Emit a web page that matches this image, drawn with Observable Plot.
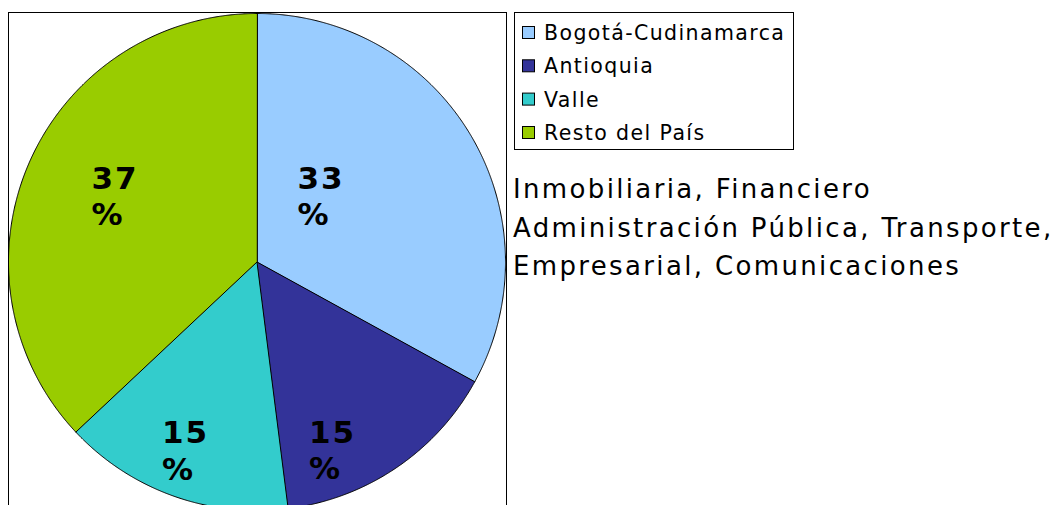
<!DOCTYPE html>
<html>
<head>
<meta charset="utf-8">
<script src="https://cdn.jsdelivr.net/npm/d3@7"></script>
<script src="https://cdn.jsdelivr.net/npm/@observablehq/plot@0.6"></script>
<style>
  html, body { margin: 0; padding: 0; background: #fff; overflow: hidden; }
  #wrap { position: relative; width: 1059px; height: 505px; overflow: hidden; }
  #wrap svg text { font-family: "DejaVu Sans", Verdana, sans-serif; }
  #chart .lbl text { letter-spacing: 2px; }
  #overlay { position: absolute; left: 0; top: 0; }
</style>
</head>
<body>
<div id="wrap"><div id="chart"></div><svg id="overlay" width="1059" height="505"></svg></div>
<script>
// ---- data ----
const regions = ["Bogotá-Cudinamarca", "Antioquia", "Valle", "Resto del País"];
const shares = [33, 15, 15, 37];
const colors = ["#99CCFF", "#333399", "#33CCCC", "#99CC00"];
const sectors = ["Inmobiliaria, Financiero", "Administración Pública, Transporte,", "Empresarial, Comunicaciones"];

// ---- layout (not data) ----
const labelRadius = [0.364, 0.815, 0.815, 0.635];   // fraction of pie radius
const labelTurn = [-15.7, 12.8, 1.35, 1.1];          // degrees relative to slice middle

// build slice polygons in unit-circle coordinates (angle 0 at top, clockwise)
const total = d3.sum(shares);
let acc = 0;
const slices = regions.map((name, i) => {
  const a0 = acc / total * 2 * Math.PI;
  acc += shares[i];
  const a1 = acc / total * 2 * Math.PI;
  return {name, value: shares[i], a0, a1};
});
const pts = slices.flatMap(s => {
  const n = Math.ceil((s.a1 - s.a0) / (Math.PI / 720));
  const arr = [{name: s.name, x: 0, y: 0}];
  for (let k = 0; k <= n; k++) {
    const a = s.a0 + (s.a1 - s.a0) * k / n;
    arr.push({name: s.name, x: Math.sin(a), y: Math.cos(a)});
  }
  return arr;
});
const labels = slices.map((s, i) => {
  const a = (s.a0 + s.a1) / 2 + labelTurn[i] * Math.PI / 180;
  return {name: s.name, text: `${s.value}\n%`, x: labelRadius[i] * Math.sin(a), y: labelRadius[i] * Math.cos(a)};
});

const cx = 256.5, cy = 261.5, r = 248.5;
const chart = Plot.plot({
  width: 1059,
  height: 520,
  marginLeft: 8,
  marginRight: 553,
  marginTop: 12,
  marginBottom: 8,
  x: {domain: [-1, 1], range: [cx - r, cx + r], axis: null},
  y: {domain: [-1, 1], range: [cy + r, cy - r], axis: null},
  color: {domain: regions, range: colors},
  marks: [
    Plot.line(pts, {x: "x", y: "y", z: "name", fill: "name", stroke: "black", strokeWidth: 1, curve: "linear-closed"}),
    Plot.text(labels, {x: "x", y: "y", text: "text", textAnchor: "start", dx: -22, dy: -1, fontSize: 31, fontWeight: "bold", lineHeight: 1.17, fill: "black", className: "lbl"}),
    Plot.frame({stroke: "black", strokeWidth: 1})
  ]
});
document.getElementById("chart").appendChild(chart);

// ---- legend and annotation ----
const ov = d3.select("#overlay");
ov.append("rect").attr("x", 514.5).attr("y", 12.5).attr("width", 279).attr("height", 137)
  .attr("fill", "white").attr("stroke", "black").attr("stroke-width", 1);
const rowY = [40, 73.3, 106.6, 140];
regions.forEach((name, i) => {
  ov.append("rect").attr("x", 522.5).attr("y", rowY[i] - 13.5).attr("width", 12).attr("height", 12)
    .attr("fill", colors[i]).attr("stroke", "black").attr("stroke-width", 1);
  ov.append("text").attr("x", 544).attr("y", rowY[i]).attr("font-size", 20.5)
    .attr("letter-spacing", "1.4px").attr("fill", "black").text(name);
});
sectors.forEach((t, i) => {
  ov.append("text").attr("x", 513).attr("y", 198 + i * 38.5).attr("font-size", 26)
    .attr("letter-spacing", "2.35px").attr("fill", "black").text(t);
});
</script>
</body>
</html>
